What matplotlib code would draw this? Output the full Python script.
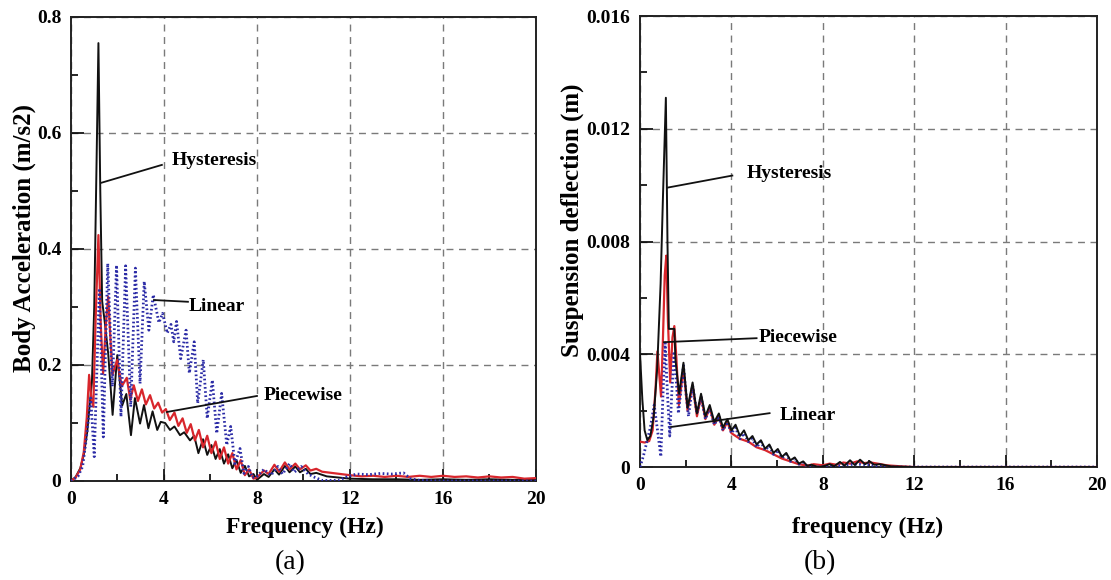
import matplotlib
matplotlib.use("Agg")
import matplotlib.pyplot as plt
from matplotlib.ticker import FixedLocator, MultipleLocator, FuncFormatter

plt.rcParams['font.family'] = ['Liberation Serif', 'DejaVu Serif']

# ---------------- (a) body acceleration spectra: (frequency Hz, m/s2) ----------------
acc_hysteresis = [
    (0, 0), (0.2, 0.007), (0.4, 0.022), (0.55, 0.045), (0.7, 0.085), (0.8, 0.13),
    (0.9, 0.17), (1.0, 0.3), (1.1, 0.55), (1.18, 0.755), (1.26, 0.5), (1.34, 0.31),
    (1.45, 0.275), (1.6, 0.22), (1.79, 0.114), (1.99, 0.217), (2.2, 0.13), (2.38, 0.15),
    (2.58, 0.079), (2.75, 0.143), (2.97, 0.099), (3.14, 0.131), (3.33, 0.091), (3.51, 0.12),
    (3.71, 0.088), (3.86, 0.102), (4.05, 0.1), (4.26, 0.088), (4.45, 0.094), (4.69, 0.079),
    (4.87, 0.084), (5.12, 0.07), (5.3, 0.078), (5.48, 0.048), (5.68, 0.072), (5.86, 0.045),
    (6.04, 0.062), (6.22, 0.038), (6.4, 0.055), (6.58, 0.03), (6.76, 0.046), (6.94, 0.022),
    (7.12, 0.036), (7.3, 0.014), (7.48, 0.026), (7.66, 0.008), (7.85, 0.012), (8.0, 0.002),
    (8.3, 0.012), (8.5, 0.007), (8.75, 0.02), (8.95, 0.011), (9.2, 0.026), (9.4, 0.015),
    (9.65, 0.025), (9.85, 0.015), (10.1, 0.021), (10.3, 0.012), (10.55, 0.014), (11.0, 0.008),
    (11.5, 0.006), (12.0, 0.004), (13.0, 0.003), (14.0, 0.003), (15.0, 0.002), (16.0, 0.003),
    (17.0, 0.002), (18.0, 0.003), (19.0, 0.002), (20.0, 0.002),
]

acc_piecewise = [
    (0, 0), (0.2, 0.006), (0.4, 0.02), (0.55, 0.05), (0.68, 0.11), (0.78, 0.183),
    (0.88, 0.14), (0.96, 0.128), (1.06, 0.28), (1.18, 0.424), (1.28, 0.27), (1.38, 0.185),
    (1.5, 0.27), (1.6, 0.318), (1.78, 0.183), (1.99, 0.209), (2.18, 0.163), (2.4, 0.178),
    (2.55, 0.14), (2.7, 0.165), (2.88, 0.138), (3.05, 0.158), (3.22, 0.132), (3.4, 0.148),
    (3.58, 0.125), (3.75, 0.135), (3.92, 0.118), (4.08, 0.124), (4.25, 0.105), (4.45, 0.118),
    (4.62, 0.095), (4.8, 0.108), (4.98, 0.083), (5.15, 0.098), (5.33, 0.07), (5.5, 0.088),
    (5.68, 0.058), (5.86, 0.078), (6.04, 0.048), (6.22, 0.068), (6.4, 0.038), (6.58, 0.058),
    (6.76, 0.03), (6.94, 0.048), (7.12, 0.02), (7.3, 0.036), (7.48, 0.01), (7.66, 0.02),
    (7.85, 0.004), (8.0, 0.006), (8.3, 0.018), (8.5, 0.012), (8.75, 0.028), (8.95, 0.016),
    (9.2, 0.032), (9.4, 0.02), (9.65, 0.03), (9.85, 0.02), (10.1, 0.027), (10.3, 0.018),
    (10.55, 0.021), (10.8, 0.016), (11.2, 0.014), (11.6, 0.012), (12.0, 0.01), (12.5, 0.008),
    (13.0, 0.009), (13.5, 0.007), (14.0, 0.009), (14.5, 0.007), (15.0, 0.009), (15.5, 0.007),
    (16.0, 0.009), (16.5, 0.007), (17.0, 0.008), (17.5, 0.006), (18.0, 0.008), (18.5, 0.006),
    (19.0, 0.007), (19.5, 0.004), (20.0, 0.005),
]

acc_linear = [
    (0, 0), (0.3, 0.008), (0.5, 0.025), (0.65, 0.07), (0.85, 0.143), (1.0, 0.042),
    (1.22, 0.332), (1.39, 0.076), (1.58, 0.375), (1.78, 0.163), (1.96, 0.372), (2.15, 0.111),
    (2.35, 0.371), (2.57, 0.128), (2.77, 0.367), (2.97, 0.168), (3.15, 0.344), (3.35, 0.26),
    (3.54, 0.321), (3.78, 0.273), (3.94, 0.289), (4.14, 0.255), (4.3, 0.27), (4.42, 0.24),
    (4.54, 0.275), (4.72, 0.211), (4.95, 0.26), (5.09, 0.186), (5.3, 0.24), (5.45, 0.134),
    (5.69, 0.209), (5.86, 0.108), (6.08, 0.174), (6.27, 0.082), (6.48, 0.151), (6.7, 0.062),
    (6.87, 0.094), (7.05, 0.03), (7.27, 0.056), (7.44, 0.013), (7.63, 0.025), (7.8, 0.006),
    (8.0, 0.008), (8.3, 0.02), (8.6, 0.01), (8.9, 0.025), (9.1, 0.012), (9.4, 0.03),
    (9.6, 0.015), (9.9, 0.025), (10.2, 0.012), (10.5, 0.006), (10.8, 0.001), (11.5, 0.001),
    (11.9, 0.008), (12.3, 0.012), (12.8, 0.011), (13.3, 0.013), (13.8, 0.012), (14.3, 0.014),
    (14.6, 0.004), (15.0, 0.001), (16.0, 0.0), (20.0, 0.0),
]

# ---------------- (b) suspension deflection spectra: (frequency Hz, m) ----------------
def_hysteresis = [
    (0, 0.004), (0.1, 0.0024), (0.2, 0.0013), (0.32, 0.00095), (0.45, 0.0011), (0.6, 0.0018),
    (0.75, 0.0035), (0.9, 0.0065), (1.0, 0.0095), (1.13, 0.0131), (1.2, 0.008), (1.26, 0.0049),
    (1.5, 0.0049), (1.55, 0.0038), (1.71, 0.0026), (1.9, 0.0037), (2.08, 0.0021), (2.3, 0.003),
    (2.49, 0.0019), (2.67, 0.0026), (2.86, 0.0018), (3.05, 0.0022), (3.25, 0.0016), (3.45, 0.0019),
    (3.63, 0.0014), (3.82, 0.0017), (4.0, 0.0013), (4.18, 0.0015), (4.37, 0.0011), (4.55, 0.0013),
    (4.74, 0.00095), (4.92, 0.0011), (5.1, 0.0008), (5.29, 0.00095), (5.47, 0.00065), (5.66, 0.0008),
    (5.84, 0.0005), (6.03, 0.00064), (6.21, 0.00036), (6.4, 0.0005), (6.58, 0.00024), (6.77, 0.00034),
    (6.95, 0.00012), (7.14, 0.0002), (7.32, 0.00004), (7.5, 0.00008), (7.8, 0.0), (8.0, 0.00002),
    (8.3, 0.0001), (8.5, 0.00003), (8.75, 0.00018), (8.95, 0.00005), (9.19, 0.00024), (9.4, 0.00007),
    (9.63, 0.00026), (9.85, 0.0001), (10.05, 0.0002), (10.25, 0.00008), (10.5, 0.0001), (11.0, 0.00002),
    (12.0, 0.0), (20.0, 0.0),
]

def_piecewise = [
    (0, 0.0009), (0.2, 0.00087), (0.4, 0.00092), (0.55, 0.0013), (0.68, 0.0028), (0.76, 0.0041),
    (0.84, 0.0033), (0.92, 0.0025), (1.0, 0.0045), (1.08, 0.0068), (1.15, 0.0075), (1.22, 0.0052),
    (1.32, 0.003), (1.42, 0.0046), (1.5, 0.005), (1.58, 0.004), (1.7, 0.0022), (1.9, 0.0035),
    (2.08, 0.002), (2.3, 0.0029), (2.49, 0.0018), (2.67, 0.0025), (2.86, 0.0017), (3.05, 0.0021),
    (3.25, 0.0015), (3.45, 0.0018), (3.63, 0.0013), (3.82, 0.0016), (4.0, 0.0012), (4.37, 0.001),
    (4.74, 0.0009), (5.1, 0.0007), (5.47, 0.0006), (5.84, 0.00045), (6.21, 0.0003), (6.58, 0.0002),
    (6.95, 0.0001), (7.32, 0.00005), (7.6, 0.0001), (8.0, 0.00006), (8.3, 0.00012), (8.6, 0.00008),
    (8.9, 0.00016), (9.2, 0.00012), (9.5, 0.0002), (9.8, 0.00014), (10.1, 0.00016), (10.4, 0.00012),
    (10.8, 0.00006), (11.5, 0.00002), (12.0, 0.0), (20.0, 0.0),
]

def_linear = [
    (0, 0.0), (0.15, 0.0004), (0.3, 0.0009), (0.45, 0.0014), (0.62, 0.0022), (0.78, 0.0012),
    (0.91, 0.00037), (1.0, 0.0025), (1.1, 0.0044), (1.2, 0.0026), (1.3, 0.0011), (1.4, 0.0028),
    (1.49, 0.0041), (1.58, 0.0031), (1.68, 0.0019), (1.8, 0.0028), (1.9, 0.0036), (2.0, 0.0027),
    (2.12, 0.0018), (2.3, 0.0029), (2.49, 0.0019), (2.67, 0.0025), (2.86, 0.0017), (3.05, 0.0021),
    (3.25, 0.0015), (3.45, 0.0018), (3.63, 0.0013), (3.82, 0.0016), (4.0, 0.0012), (4.18, 0.0014),
    (4.37, 0.001), (4.55, 0.0012), (4.74, 0.0009), (4.92, 0.001), (5.1, 0.0007), (5.29, 0.0009),
    (5.47, 0.0006), (5.66, 0.00075), (5.84, 0.00045), (6.03, 0.0006), (6.21, 0.00032), (6.4, 0.00045),
    (6.58, 0.0002), (6.77, 0.0003), (6.95, 0.0001), (7.14, 0.00016), (7.32, 0.00003), (7.6, 0.0),
    (8.5, 0.00002), (9.0, 0.00008), (9.5, 0.0001), (10.0, 0.00008), (10.5, 0.00003), (11.0, 0.0),
    (20.0, 0.0),
]

x_ticks = [0, 4, 8, 12, 16, 20]
acc_ticks = [0, 0.2, 0.4, 0.6, 0.8]
def_ticks = [0, 0.004, 0.008, 0.012, 0.016]

BLACK = '#111111'
RED = '#d8262c'
BLUE = '#2b2ba6'


def xy(pairs):
    return [p[0] for p in pairs], [p[1] for p in pairs]


def style_axes(ax, yticks, yminor, labels):
    ax.set_xlim(0, 20)
    ax.set_ylim(yticks[0], yticks[-1])
    ax.xaxis.set_major_locator(FixedLocator(x_ticks))
    ax.xaxis.set_minor_locator(MultipleLocator(2))
    ax.yaxis.set_major_locator(FixedLocator(yticks))
    ax.yaxis.set_minor_locator(MultipleLocator(yminor))
    ax.set_yticklabels(labels)
    ax.grid(which='major', linestyle=(0, (5, 4)), color='#7a7a7a', linewidth=1.0)
    ax.set_axisbelow(True)
    ax.tick_params(which='both', direction='in', top=False, right=False,
                   labelsize=14, pad=7, width=1.2)
    ax.tick_params(which='major', length=9)
    ax.tick_params(which='minor', length=5)
    for lab in ax.get_xticklabels() + ax.get_yticklabels():
        lab.set_fontweight('bold')
    for sp in ax.spines.values():
        sp.set_linewidth(1.4)
        sp.set_color('#222222')


fig = plt.figure(figsize=(11.11, 5.8), dpi=100)

# ---------- panel (a) ----------
ax1 = fig.add_axes([0.0639, 0.1707, 0.4185, 0.8])
x, y = xy(acc_hysteresis)
ax1.plot(x, y, color=BLACK, lw=1.4, zorder=3)
x, y = xy(acc_piecewise)
ax1.plot(x, y, color=RED, lw=1.6, zorder=4)
x, y = xy(acc_linear)
ax1.plot(x, y, color=BLUE, lw=2.0, ls=(0, (0.6, 0.9)), zorder=5)
style_axes(ax1, acc_ticks, 0.1, ['0', '0.2', '0.4', '0.6', '0.8'])

ax1.plot([1.29, 3.91], [0.514, 0.545], color=BLACK, lw=1.3, zorder=6)
ax1.text(4.35, 0.553, 'Hysteresis', fontsize=14, fontweight='bold', va='center', ha='left')
ax1.plot([3.57, 5.03], [0.312, 0.309], color=BLACK, lw=1.3, zorder=6)
ax1.text(5.07, 0.30, 'Linear', fontsize=14, fontweight='bold', va='center', ha='left')
ax1.plot([4.13, 8.0], [0.119, 0.1466], color=BLACK, lw=1.3, zorder=6)
ax1.text(8.3, 0.147, 'Piecewise', fontsize=14, fontweight='bold', va='center', ha='left')

# ---------- panel (b) ----------
ax2 = fig.add_axes([0.5761, 0.1948, 0.4113, 0.7776])
x, y = xy(def_piecewise)
ax2.plot(x, y, color=RED, lw=1.6, zorder=3)
x, y = xy(def_linear)
ax2.plot(x, y, color=BLUE, lw=2.0, ls=(0, (0.6, 0.9)), zorder=4)
x, y = xy(def_hysteresis)
ax2.plot(x, y, color=BLACK, lw=1.4, zorder=5)
style_axes(ax2, def_ticks, 0.002, ['0', '0.004', '0.008', '0.012', '0.016'])

ax2.plot([1.19, 4.04], [0.00991, 0.01034], color=BLACK, lw=1.3, zorder=6)
ax2.text(4.66, 0.0104, 'Hysteresis', fontsize=14, fontweight='bold', va='center', ha='left')
ax2.plot([1.05, 5.1], [0.00443, 0.00457], color=BLACK, lw=1.3, zorder=6)
ax2.text(5.19, 0.0046, 'Piecewise', fontsize=14, fontweight='bold', va='center', ha='left')
ax2.plot([1.36, 5.67], [0.00142, 0.00191], color=BLACK, lw=1.3, zorder=6)
ax2.text(6.1, 0.00184, 'Linear', fontsize=14, fontweight='bold', va='center', ha='left')

# ---------- axis titles and captions ----------
W, H = 1111, 580
fig.text(24 / W, 1 - 238 / H, 'Body Acceleration (m/s2)', rotation=90, ha='center', va='center',
         fontsize=18, fontweight='bold')
fig.text(305 / W, 1 - 527 / H, 'Frequency (Hz)', ha='center', va='center', fontsize=17, fontweight='bold')
fig.text(290 / W, 1 - 563 / H, '(a)', ha='center', va='center', fontsize=20)

fig.text(572 / W, 1 - 220 / H, 'Suspension deflection (m)', rotation=90, ha='center', va='center',
         fontsize=18, fontweight='bold')
fig.text(868 / W, 1 - 527 / H, 'frequency (Hz)', ha='center', va='center', fontsize=17, fontweight='bold')
fig.text(820 / W, 1 - 563 / H, '(b)', ha='center', va='center', fontsize=20)

fig.savefig('out.png', dpi=100, facecolor='white')
